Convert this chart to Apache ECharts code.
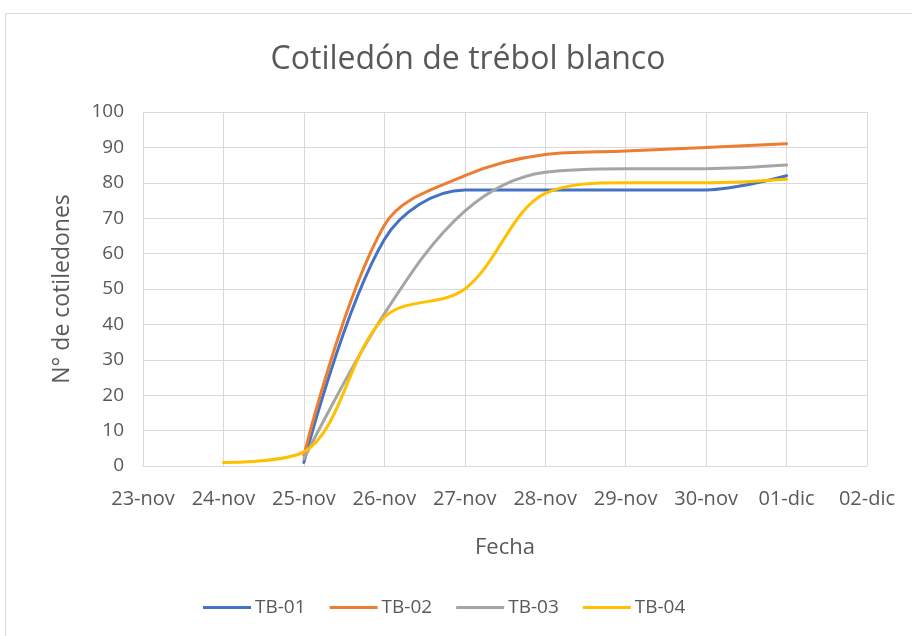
<!DOCTYPE html>
<html>
<head>
<meta charset="utf-8">
<script src="https://cdn.jsdelivr.net/npm/echarts@6/dist/echarts.min.js"></script>
<style>
  html, body { margin: 0; padding: 0; background: #fff; }
  #chart { width: 912px; height: 636px; }
</style>
</head>
<body>
<div id="chart"></div>
<script>
// Dates on the horizontal axis
const fechas = ['23-nov', '24-nov', '25-nov', '26-nov', '27-nov', '28-nov', '29-nov', '30-nov', '01-dic', '02-dic'];

// Cotyledon counts per tray (null = no reading that day)
const tb01 = [null, null, 1, 64, 78, 78, 78, 78, 82, null];
const tb02 = [null, null, 3, 68, 82, 88, 89, 90, 91, null];
const tb03 = [null, null, 2, 43, 72, 83, 84, 84, 85, null];
const tb04 = [null, 1, 4, 42, 50, 77, 80, 80, 81, null];

const seriesNames = ['TB-01', 'TB-02', 'TB-03', 'TB-04'];
const seriesColors = ['#4472C4', '#ED7D31', '#A5A5A5', '#FFC000'];
const seriesData = [tb01, tb02, tb03, tb04];

const chartTitle = 'Cotiledón de trébol blanco';
const textColor = '#595959';
const gridColor = '#d9d9d9';
const fontFam = '"Open Sans", "Noto Sans", sans-serif';

const chart = echarts.init(document.getElementById('chart'));
chart.setOption({
  animation: false,
  backgroundColor: '#fff',
  textStyle: { fontFamily: fontFam },
  graphic: [{
    type: 'rect',
    shape: { x: 5.5, y: 13.5, width: 1200, height: 1200 },
    style: { fill: 'none', stroke: gridColor, lineWidth: 1 },
    silent: true
  }, {
    type: 'text',
    x: 468,
    y: 60,
    style: {
      text: chartTitle,
      fill: textColor,
      font: '32px ' + fontFam,
      textAlign: 'center',
      textVerticalAlign: 'middle'
    },
    silent: true
  }],
  legend: {
    bottom: 14,
    left: 198,
    icon: 'rect',
    itemWidth: 48,
    itemHeight: 3,
    itemGap: 24,
    textStyle: { fontFamily: fontFam, fontSize: 19, color: textColor, padding: [0, 0, 0, -1] },
    data: seriesNames
  },
  grid: { left: 143, right: 45, top: 112, bottom: 170, containLabel: false },
  xAxis: {
    type: 'category',
    data: fechas,
    boundaryGap: false,
    name: 'Fecha',
    nameLocation: 'middle',
    nameGap: 71,
    nameTextStyle: { fontFamily: fontFam, fontSize: 22, color: textColor },
    axisLine: { lineStyle: { color: gridColor, width: 1 } },
    axisTick: { show: false },
    axisLabel: { color: textColor, fontSize: 20, margin: 23, fontFamily: fontFam, interval: 0 },
    splitLine: { show: true, lineStyle: { color: gridColor, width: 1 } }
  },
  yAxis: {
    type: 'value',
    min: 0,
    max: 100,
    interval: 10,
    name: 'N° de cotiledones',
    nameLocation: 'middle',
    nameGap: 69,
    nameTextStyle: { fontFamily: fontFam, fontSize: 23, color: textColor },
    axisLine: { show: false },
    axisTick: { show: false },
    axisLabel: { color: textColor, fontSize: 19, margin: 19, fontFamily: fontFam },
    splitLine: { lineStyle: { color: gridColor, width: 1 } }
  },
  series: seriesNames.map((n, i) => ({
    name: n,
    type: 'line',
    data: seriesData[i],
    smooth: 0.35,
    showSymbol: false,
    symbol: 'none',
    color: seriesColors[i],
    lineStyle: { width: 3, color: seriesColors[i], cap: 'round' },
    z: 2 + i
  }))
});
</script>
</body>
</html>
